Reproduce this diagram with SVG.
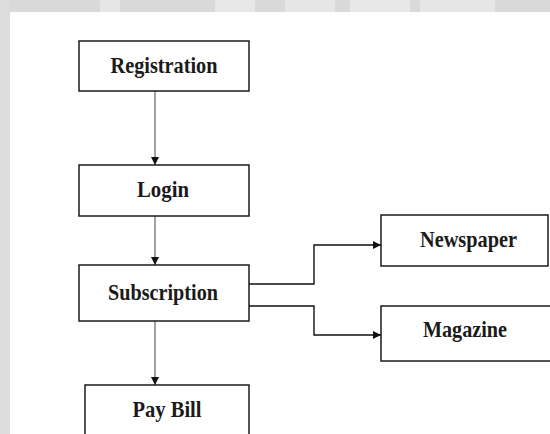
<svg xmlns="http://www.w3.org/2000/svg" width="550" height="434" viewBox="0 0 550 434">
<style>
.box{fill:#fff;stroke:#1a1a1a;stroke-width:1.5}
.lbl{font-family:"Liberation Serif","Times New Roman",serif;font-weight:bold;font-size:23px;fill:#1a1a1a;text-anchor:middle}
.v{fill:none;stroke:#8a8a8a;stroke-width:1.6}
.h{fill:none;stroke:#111;stroke-width:1.4}
</style>
<defs>
<marker id="ah" viewBox="0 0 10 10" refX="10" refY="5" markerWidth="8" markerHeight="8" markerUnits="userSpaceOnUse" orient="auto">
<path d="M0,0 L10,5 L0,10 z" fill="#111"/>
</marker>
</defs>
<rect x="0" y="0" width="550" height="434" fill="#fff"/>
<g id="watermark">
<rect x="0" y="0" width="550" height="12" fill="#d9d9d9"/>
<rect x="0" y="0" width="10" height="434" fill="#dcdcdc"/>
<rect x="100" y="0" width="20" height="12" fill="#e6e6e6"/>
<rect x="215" y="0" width="40" height="12" fill="#e8e8e8"/>
<rect x="285" y="0" width="50" height="12" fill="#e6e6e6"/>
<rect x="350" y="0" width="60" height="12" fill="#e8e8e8"/>
<rect x="420" y="0" width="75" height="12" fill="#e6e6e6"/>
</g>
<g id="connectors">
<path class="v" d="M155,91 V165" marker-end="url(#ah)"/>
<path class="v" d="M155,216 V265" marker-end="url(#ah)"/>
<path class="v" d="M155,321 V385" marker-end="url(#ah)"/>
<path class="h" d="M249,284 H314 V245 H381" marker-end="url(#ah)"/>
<path class="h" d="M249,306 H314 V335 H381" marker-end="url(#ah)"/>
</g>
<g id="registration">
<rect class="box" x="79" y="41" width="170" height="50"/>
<text class="lbl" x="164" y="72.5" textLength="107" lengthAdjust="spacingAndGlyphs">Registration</text>
</g>
<g id="login">
<rect class="box" x="79" y="165" width="170" height="51"/>
<text class="lbl" x="163" y="196.5" textLength="52" lengthAdjust="spacingAndGlyphs">Login</text>
</g>
<g id="subscription">
<rect class="box" x="79" y="265" width="170" height="56"/>
<text class="lbl" x="163" y="300" textLength="110" lengthAdjust="spacingAndGlyphs">Subscription</text>
</g>
<g id="paybill">
<rect class="box" x="85" y="385" width="164" height="60"/>
<text class="lbl" x="167" y="416.5" textLength="69" lengthAdjust="spacingAndGlyphs">Pay Bill</text>
</g>
<g id="newspaper">
<rect class="box" x="381" y="215" width="167" height="51"/>
<text class="lbl" x="468.5" y="246.5" textLength="97" lengthAdjust="spacingAndGlyphs">Newspaper</text>
</g>
<g id="magazine">
<rect class="box" x="381" y="306" width="170" height="55"/>
<text class="lbl" x="465" y="336.5" textLength="84" lengthAdjust="spacingAndGlyphs">Magazine</text>
</g>
</svg>
